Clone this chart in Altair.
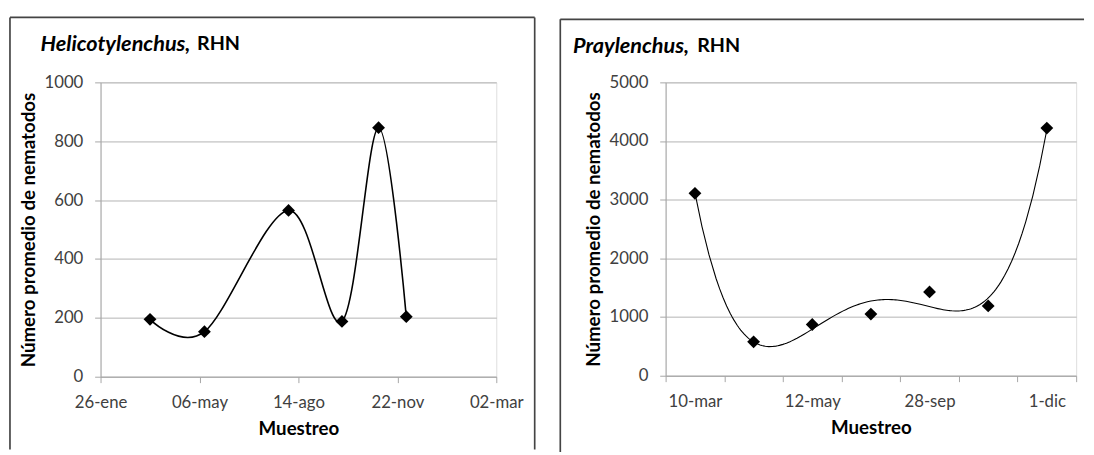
import altair as alt
import pandas as pd

# ---------------- data ----------------
# Left panel: Helicotylenchus, RHN (date axis)
heli_dates = ["2010/03/17", "2010/05/11", "2010/08/04", "2010/09/27", "2010/11/03", "2010/12/01"]
heli_values = [195, 153, 565, 188, 846, 204]
heli_ticks = [(2010, 1, 26), (2010, 5, 6), (2010, 8, 14), (2010, 11, 22), (2011, 3, 2)]
heli_yticks = [0, 200, 400, 600, 800, 1000]

# Right panel: Praylenchus, RHN (category axis, 7 samplings)
pray_index = [1, 2, 3, 4, 5, 6, 7]
pray_values = [3109, 578, 873, 1051, 1429, 1190, 4221]
pray_labels = ["10-mar", "", "12-may", "", "28-sep", "", "1-dic"]
pray_yticks = [0, 1000, 2000, 3000, 4000, 5000]

months_es = ["ene", "feb", "mar", "abr", "may", "jun", "jul", "ago", "sep", "oct", "nov", "dic"]

# ---------------- style ----------------
FONT = "Lato"
AXIS_GRAY = "#a6a6a6"
GRID_GRAY = "#b3b3b3"
LABEL_COLOR = "#404040"
FRAME_COLOR = "#444444"
LABEL_SIZE = 17
TITLE_SIZE = 19
HEAD_SIZE = 22
HEAD_PLAIN_SIZE = 20

W1, H1 = 402, 299
W2, H2 = 417, 298


def month_array():
    return "[" + ",".join("'" + m + "'" for m in months_es) + "]"


def y_axis(values):
    return alt.Axis(
        values=values, format="d", grid=True, gridColor=GRID_GRAY, domainColor=AXIS_GRAY,
        tickColor=AXIS_GRAY, tickSize=6, labelPadding=12, labelColor=LABEL_COLOR,
        labelFontSize=LABEL_SIZE, labelFont=FONT, title="Número promedio de nematodos",
        titleFont=FONT, titleFontSize=TITLE_SIZE, titleFontWeight="bold",
        titleColor="black", titlePadding=6,
    )


def single(val):
    return pd.DataFrame({"t": [val]})


def heading(italic_text, plain_text, x0, x1, y):
    a = alt.Chart(single(italic_text)).mark_text(
        align="left", baseline="middle", font=FONT, fontSize=HEAD_SIZE,
        fontStyle="italic", fontWeight="bold", color="black",
    ).encode(text="t:N", x=alt.value(x0), y=alt.value(y))
    b = alt.Chart(single(plain_text)).mark_text(
        align="left", baseline="middle", font=FONT, fontSize=HEAD_PLAIN_SIZE,
        fontWeight="bold", color="black",
    ).encode(text="t:N", x=alt.value(x1), y=alt.value(y))
    return [a, b]


def frame(left, top, right, bottom, draw_right=True):
    rule = dict(color=FRAME_COLOR, strokeWidth=1.7)
    parts = [
        alt.Chart(single(0)).mark_rule(**rule).encode(
            x=alt.value(left), y=alt.value(top), y2=alt.value(bottom)),
        alt.Chart(single(0)).mark_rule(**rule).encode(
            x=alt.value(left), x2=alt.value(right), y=alt.value(top)),
    ]
    if draw_right:
        parts.append(alt.Chart(single(0)).mark_rule(**rule).encode(
            x=alt.value(right), y=alt.value(top), y2=alt.value(bottom)))
    return parts


def x_axis_common():
    return dict(
        grid=False, domainColor=AXIS_GRAY, tickColor=AXIS_GRAY,
        tickSize=6, labelPadding=12, labelColor=LABEL_COLOR, labelFontSize=LABEL_SIZE,
        labelFont=FONT, labelOverlap=False, labelAngle=0,
        title="Muestreo", titleFont=FONT, titleFontSize=TITLE_SIZE,
        titleFontWeight="bold", titleColor="black", titlePadding=10,
    )


# ---------------- left panel ----------------
left_df = pd.DataFrame({"fecha": heli_dates, "n": heli_values})
tick_dt = [alt.DateTime(year=y, month=m, date=d) for (y, m, d) in heli_ticks]

xl = alt.X(
    "fecha:T",
    scale=alt.Scale(domain=[tick_dt[0], tick_dt[-1]]),
    axis=alt.Axis(
        values=tick_dt, labelFlush=False,
        labelExpr="timeFormat(datum.value, '%d') + '-' + " + month_array() + "[month(datum.value)]",
        **x_axis_common(),
    ),
)
yl = alt.Y("n:Q", scale=alt.Scale(domain=[0, 1000], nice=False), axis=y_axis(heli_yticks))

base_l = alt.Chart(left_df).encode(x=xl, y=yl)
line_l = base_l.mark_line(interpolate="cardinal", color="black", strokeWidth=1.6)
pts_l = base_l.mark_point(shape="diamond", filled=True, size=170, color="black", opacity=1)

left = alt.layer(
    line_l, pts_l,
    *heading("Helicotylenchus,", "RHN", -61, 98, -39),
    *frame(-92, -66, 441, 373),
).properties(width=W1, height=H1)

# ---------------- right panel ----------------
right_df = pd.DataFrame({"i": pray_index, "v": pray_values})
lab_arr = "[" + ",".join("'" + s + "'" for s in pray_labels) + "]"

yr = alt.Y("v:Q", scale=alt.Scale(domain=[0, 5000], nice=False), axis=y_axis(pray_yticks))

pts_r = alt.Chart(right_df).mark_point(
    shape="diamond", filled=True, size=170, color="black", opacity=1
).encode(
    x=alt.X(
        "i:O",
        scale=alt.Scale(paddingInner=0, paddingOuter=0),
        axis=alt.Axis(
            tickBand="extent",
            labelExpr=lab_arr + "[datum.value - 1]",
            **x_axis_common(),
        ),
    ),
    y=yr,
)

trend_r = alt.Chart(right_df).transform_regression(
    "i", "v", method="poly", order=4
).mark_line(color="black", strokeWidth=1.1).encode(
    x=alt.X("i:Q", scale=alt.Scale(domain=[0.5, 7.5], nice=False, zero=False), axis=None),
    y=yr,
)

right = alt.layer(
    trend_r, pts_r,
    *heading("Praylenchus,", "RHN", -94, 32, -37),
    *frame(-107, -64, 425, 375.5, draw_right=False),
).resolve_scale(x="independent").properties(width=W2, height=H2)

chart = alt.hconcat(left, right, spacing=22).properties(
    padding={"left": 0, "top": 4, "right": 0, "bottom": 0}
).configure_view(stroke=None).configure(font=FONT)

chart.save("out.html", embed_options={"renderer": "svg", "actions": False})
